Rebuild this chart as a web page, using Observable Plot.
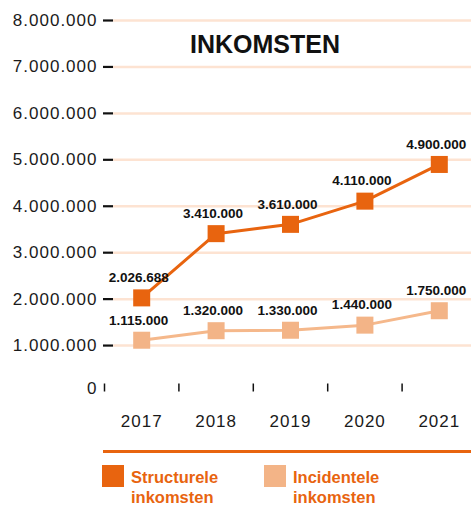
<!DOCTYPE html>
<html>
<head>
<meta charset="utf-8">
<script src="https://cdn.jsdelivr.net/npm/d3@7"></script>
<script src="https://cdn.jsdelivr.net/npm/@observablehq/plot@0.6"></script>
<style>
  html, body { margin: 0; padding: 0; background: #fff; }
  #wrap { position: relative; width: 471px; height: 507px; overflow: hidden; font-family: "Liberation Sans", Arial, sans-serif; }
  #title { position: absolute; left: 190px; top: 32px; font-size: 25px; line-height: 25px; font-weight: bold; color: #111; }
  #sep { position: absolute; left: 103px; top: 450px; width: 368px; height: 3px; background: #e8640f; }
  .sw { position: absolute; top: 465px; width: 22px; height: 22px; }
  .lt { position: absolute; top: 467px; font-size: 16.5px; line-height: 20px; font-weight: bold; color: #e8640f; }
  g[aria-label="y-axis tick label"] text, g[aria-label="x-axis tick label"] text { letter-spacing: 1px; }
  g[aria-label="value label"] text { letter-spacing: 0.6px; }
</style>
</head>
<body>
<div id="wrap">
  <div id="chart"></div>
  <div id="title">INKOMSTEN</div>
  <div id="sep"></div>
  <div class="sw" style="left:102px;background:#e8640f"></div>
  <div class="lt" style="left:131px">Structurele<br>inkomsten</div>
  <div class="sw" style="left:264px;background:#f3b487"></div>
  <div class="lt" style="left:293px">Incidentele<br>inkomsten</div>
</div>
<script>
const years = [2017, 2018, 2019, 2020, 2021];
const structurele = [2026688, 3410000, 3610000, 4110000, 4900000];
const incidentele = [1115000, 1320000, 1330000, 1440000, 1750000];
const yTicks = [1000000, 2000000, 3000000, 4000000, 5000000, 6000000, 7000000, 8000000];

const nl = d3.formatLocale({decimal: ",", thousands: ".", grouping: [3], currency: ["€", ""]});
const fmt = nl.format(",d");

const sData = years.map((y, i) => ({year: y, value: structurele[i]}));
const iData = years.map((y, i) => ({year: y, value: incidentele[i]}));
const boundaries = years.map(y => y - 0.5);

const dark = "#e8640f";
const light = "#f3b487";

const chart = Plot.plot({
  width: 471,
  height: 440,
  marginLeft: 113,
  marginRight: 0,
  marginTop: 20,
  marginBottom: 48.5,
  style: {fontFamily: "Liberation Sans, Arial, sans-serif", background: "transparent", overflow: "visible"},
  x: {type: "linear", domain: [years[0] - 0.5, years[years.length - 1] + 0.5], range: [104, 476]},
  y: {domain: [0, 8000000], range: [391.5, 20]},
  marks: [
    Plot.ruleY(yTicks, {stroke: "#fde3d2", strokeWidth: 2.5}),
    Plot.axisY({ticks: yTicks, tickSize: 10, tickPadding: 6, tickFormat: fmt, label: null, fontSize: 17, fill: "#1a1a1a", stroke: "#111", strokeWidth: 2.2}),
    Plot.axisY({ticks: [0], tickSize: 0, tickPadding: 16, tickFormat: fmt, label: null, fontSize: 17, fill: "#1a1a1a", dy: -3}),
    Plot.ruleX(boundaries, {stroke: "#111", strokeWidth: 1.5, insetTop: 363.5}),
    Plot.axisX({ticks: years, tickSize: 0, tickPadding: 22.5, tickFormat: d => String(d), label: null, fontSize: 17, fill: "#1a1a1a"}),
    Plot.line(iData, {x: "year", y: "value", stroke: "#f5b88b", strokeWidth: 3}),
    Plot.line(sData, {x: "year", y: "value", stroke: dark, strokeWidth: 3}),
    Plot.dot(iData, {x: "year", y: "value", symbol: "square", r: 9.6, fill: light}),
    Plot.dot(sData, {x: "year", y: "value", symbol: "square", r: 9.6, fill: dark}),
    Plot.text(iData, {x: "year", y: "value", text: d => fmt(d.value), dy: -20, dx: -3, fontSize: 13.5, fontWeight: "bold", fill: "#111", ariaLabel: "value label"}),
    Plot.text(sData, {x: "year", y: "value", text: d => fmt(d.value), dy: -20, dx: -3, fontSize: 13.5, fontWeight: "bold", fill: "#111", ariaLabel: "value label"})
  ]
});
document.getElementById("chart").appendChild(chart);
</script>
</body>
</html>
